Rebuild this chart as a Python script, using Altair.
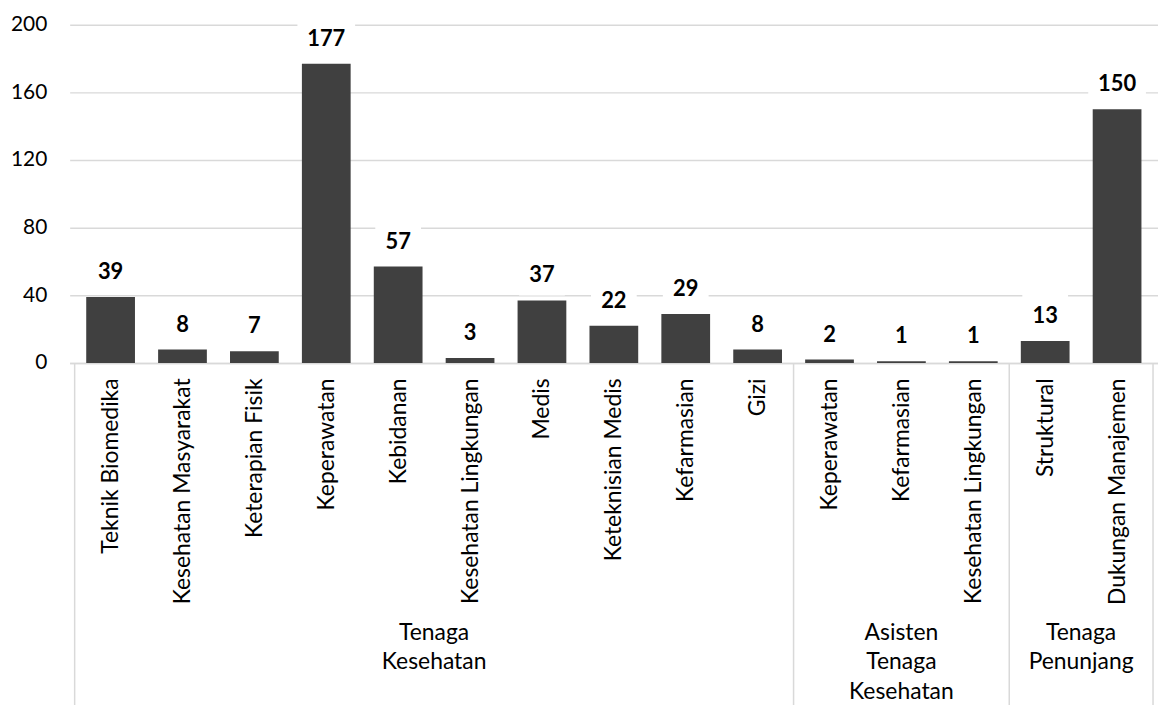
import json
import altair as alt
import pandas as pd

categories = ["Teknik Biomedika", "Kesehatan Masyarakat", "Keterapian Fisik", "Keperawatan",
              "Kebidanan", "Kesehatan Lingkungan", "Medis", "Keteknisian Medis", "Kefarmasian",
              "Gizi", "Keperawatan", "Kefarmasian", "Kesehatan Lingkungan", "Struktural",
              "Dukungan Manajemen"]
values = [39, 8, 7, 177, 57, 3, 37, 22, 29, 8, 2, 1, 1, 13, 150]
groups = ["Tenaga\nKesehatan", "Asisten\nTenaga\nKesehatan", "Tenaga\nPenunjang"]
group_sizes = [10, 3, 2]
y_ticks = [0, 40, 80, 120, 160, 200]

FONT = "Lato"
GRID = "#d9d9d9"

df = pd.DataFrame({
    "i": list(range(len(categories))),
    "name": categories,
    "value": values,
    "digits": [len(str(v)) for v in values],
})

centers, bounds, start = [], [-0.5], 0
for n in group_sizes:
    centers.append(start + (n - 1) / 2)
    start += n
    bounds.append(start - 0.5)
gdf = pd.DataFrame({"c": centers, "label": groups})
bdf = pd.DataFrame({"b": bounds})

label_expr = "[" + ",".join(json.dumps(c) for c in categories) + "][datum.value]"

xscale = alt.Scale(domain=[-0.5, len(categories) - 0.5], nice=False, zero=False)
x_enc = alt.X("i:Q", scale=xscale,
              axis=alt.Axis(values=list(range(len(categories))), labelExpr=label_expr,
                            labelAngle=-90, ticks=False, grid=False, domainColor=GRID,
                            domainWidth=1.5, labelFontSize=23, labelPadding=15,
                            labelLimit=0, labelFlush=False, labelOverlap=False, title=None))
y_enc = alt.Y("value:Q", scale=alt.Scale(domain=[0, 200], nice=False),
              axis=alt.Axis(values=y_ticks, domain=False, ticks=False, gridColor=GRID,
                            gridWidth=1.5, labelFontSize=21, labelPadding=23, title=None))

base = alt.Chart(df)

bars = base.mark_bar(color="#404040", width=49).encode(x=x_enc, y=y_enc)

boxes = []
for d in (1, 2, 3):
    boxes.append(
        base.transform_filter(alt.datum.digits == d)
        .mark_bar(color="white", width=12 * d + 22, yOffset=-48, y2Offset=-5)
        .encode(x="i:Q", y="value:Q", y2="value:Q")
    )

labels = base.mark_text(fontWeight="bold", fontSize=22, baseline="alphabetic", dy=-18,
                        color="black", font=FONT).encode(x="i:Q", y="value:Q",
                                                          text="value:Q")

group_text = alt.Chart(gdf).mark_text(fontSize=23, lineHeight=30, baseline="top",
                                      align="center", lineBreak="\n", color="black",
                                      font=FONT).encode(
    x="c:Q", y=alt.value(600), text="label:N")

seps = alt.Chart(bdf).mark_rule(color=GRID, strokeWidth=1.5).encode(
    x="b:Q", y=alt.value(340), y2=alt.value(720))

chart = alt.layer(*boxes, bars, labels, group_text, seps).properties(
    width=1094, height=340,
    autosize=alt.AutoSizeParams(type="none"),
    padding={"left": 62, "top": 15, "right": 0, "bottom": 342},
    background="white",
).configure_view(stroke=None).configure_axis(labelFont=FONT, labelColor="black")

chart.save("out.html", embed_options={"renderer": "svg", "actions": False})
